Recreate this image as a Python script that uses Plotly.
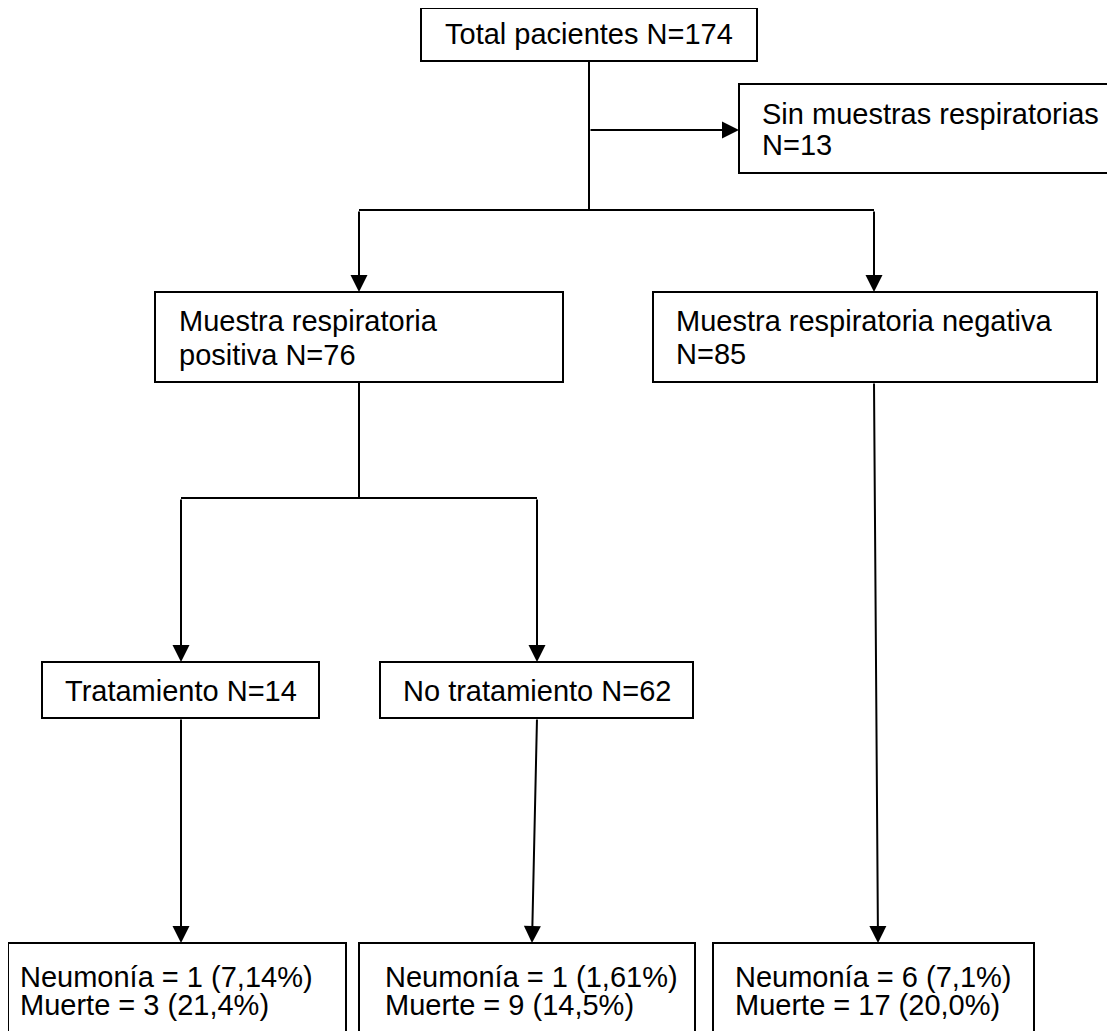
import plotly.graph_objects as go

# ---- content (texts / values) ----
node_ids = ["total", "sin", "pos", "neg", "trat", "notrat", "res_trat", "res_notrat", "res_neg"]
node_lines = {
    "total": ["Total pacientes N=174"],
    "sin": ["Sin muestras respiratorias", "N=13"],
    "pos": ["Muestra respiratoria", "positiva N=76"],
    "neg": ["Muestra respiratoria negativa", "N=85"],
    "trat": ["Tratamiento N=14"],
    "notrat": ["No tratamiento N=62"],
    "res_trat": ["Neumonía = 1 (7,14%)", "Muerte = 3 (21,4%)"],
    "res_notrat": ["Neumonía = 1 (1,61%)", "Muerte = 9 (14,5%)"],
    "res_neg": ["Neumonía = 6 (7,1%)", "Muerte = 17 (20,0%)"],
}

# ---- layout of the diagram (pixel space, y downward) ----
boxes = {  # x0, y0, x1, y1
    "total": (421, 8, 757, 61),
    "sin": (739, 84, 1113, 173),
    "pos": (155, 292, 563, 382),
    "neg": (653, 292, 1097, 382),
    "trat": (42, 662, 319, 718),
    "notrat": (380, 662, 693, 718),
    "res_trat": (8, 943, 346, 1040),
    "res_notrat": (359, 943, 695, 1040),
    "res_neg": (713, 943, 1034, 1040),
}
text_pos = {  # align, x, baselines
    "total": ("center", 589, [44]),
    "sin": ("left", 760, [124, 155]),
    "pos": ("left", 177, [331, 365]),
    "neg": ("left", 674, [331, 364]),
    "trat": ("center", 181, [701]),
    "notrat": ("center", 536.5, [701]),
    "res_trat": ("left", 18, [987, 1015]),
    "res_notrat": ("left", 383, [987, 1015]),
    "res_neg": ("left", 733, [987, 1015]),
}
plain_lines = [  # x0, y0, x1, y1
    (589, 61, 589, 210),
    (359, 210, 874, 210),
    (359, 382, 359, 498),
    (181, 498, 537, 498),
]
arrows = [  # from (x0,y0) to (x1,y1) with head at end
    (589, 130, 739, 130),
    (359, 210, 359, 292),
    (874, 210, 874, 292),
    (181, 498, 181, 662),
    (537, 498, 537, 662),
    (181, 718, 181, 943),
    (537, 718, 532, 943),
    (874, 382, 878, 943),
]

FONT = dict(family="Liberation Sans, Arial, sans-serif", size=29, color="black")
W, H = 1115, 1031
OFF = 8  # page body margin

fig = go.Figure()
fig.add_trace(go.Scatter(x=[OFF, W], y=[OFF, H], mode="markers", marker=dict(opacity=0),
                         hoverinfo="skip", showlegend=False))

shapes = []
for nid in node_ids:
    x0, y0, x1, y1 = boxes[nid]
    shapes.append(dict(type="rect", xref="x", yref="y", x0=x0, y0=y0, x1=x1, y1=y1,
                       line=dict(color="black", width=2), fillcolor="white", layer="below"))
for (x0, y0, x1, y1) in plain_lines:
    shapes.append(dict(type="line", xref="x", yref="y", x0=x0, y0=y0, x1=x1, y1=y1,
                       line=dict(color="black", width=2)))

annotations = []
for nid in node_ids:
    align, tx, baselines = text_pos[nid]
    for line, bl in zip(node_lines[nid], baselines):
        annotations.append(dict(x=tx, y=bl - 10, xref="x", yref="y", text=line, showarrow=False,
                                xanchor=align, yanchor="middle", font=FONT))
for (x0, y0, x1, y1) in arrows:
    annotations.append(dict(x=x1, y=y1, ax=x0, ay=y0, xref="x", yref="y", axref="x", ayref="y",
                            text="", showarrow=True, arrowhead=2, arrowsize=1.7, arrowwidth=2,
                            arrowcolor="black", standoff=0, startstandoff=0))

fig.update_layout(
    width=W - OFF, height=H - OFF, margin=dict(l=0, r=0, t=0, b=0),
    paper_bgcolor="white", plot_bgcolor="white",
    xaxis=dict(range=[OFF, W], visible=False, fixedrange=True),
    yaxis=dict(range=[H, OFF], visible=False, fixedrange=True),
    shapes=shapes, annotations=annotations, showlegend=False,
)
fig.write_html("out.html")
